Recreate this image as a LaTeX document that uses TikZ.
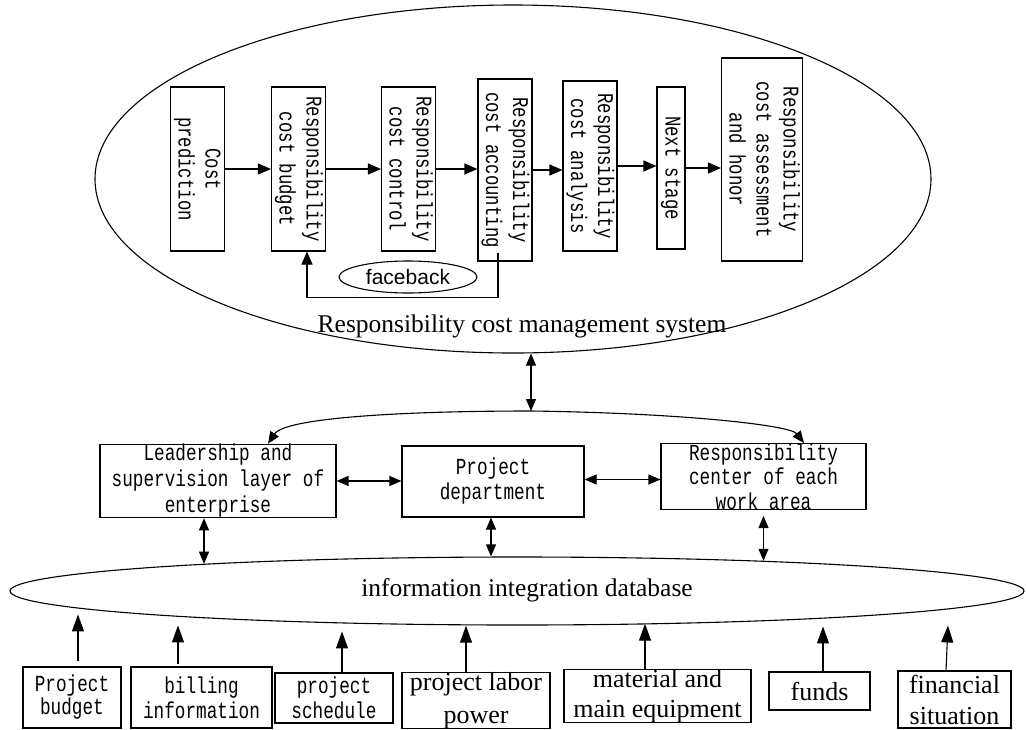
\documentclass[tikz,border=0pt]{standalone}
\usepackage{fontspec}
\setmainfont{Liberation Serif}
\newfontfamily\monofont[FakeStretch=0.77]{Liberation Mono}
\newfontfamily\sansfont{Liberation Sans}
\usetikzlibrary{shapes.geometric,arrows.meta,positioning}
\newcommand{\vtext}[1]{\rotatebox{-90}{\begin{tabular}{@{}c@{}}#1\end{tabular}}}
\begin{document}
\begin{tikzpicture}[x=1pt,y=-1pt,line width=1.1pt,
  box/.style={draw,inner sep=0pt,align=center},
  vbox/.style={box,font=\monofont\fontsize{22.5}{27}\selectfont},
  mbox/.style={box,font=\monofont\fontsize{23}{#1}\selectfont},
  sbox/.style={box,font=\fontsize{26}{#1}\selectfont},
  arr/.style={-{Triangle[length=13pt,width=11pt]}},
  barr/.style={-{Triangle[length=17pt,width=12pt]}},
  darr/.style={{Triangle[length=12pt,width=10pt]}-{Triangle[length=12pt,width=10pt]}}]
\useasboundingbox (0,0) rectangle (1026,729);
\node[draw,ellipse,minimum width=836pt,minimum height=348pt,inner sep=0pt] (E1) at (513,179) {};
\node[font=\fontsize{25.5}{30}\selectfont] (L1) at (522,326) {Responsibility cost management system};
\node[vbox,minimum width=51pt,minimum height=164pt] (P1) at (197.5,169) {\vtext{Cost\\prediction}};
\node[vbox,minimum width=51pt,minimum height=164pt] (P2) at (298.5,169) {\vtext{Responsibility\\cost budget}};
\node[vbox,minimum width=51pt,minimum height=164pt] (P3) at (408.5,169) {\vtext{Responsibility\\cost control}};
\node[vbox,minimum width=48pt,minimum height=182pt] (P4) at (505,170) {\vtext{Responsibility\\cost accounting}};
\node[vbox,minimum width=46pt,minimum height=170pt] (P5) at (590,166) {\vtext{Responsibility\\cost analysis}};
\node[vbox,minimum width=28pt,minimum height=162pt] (P6) at (671,168) {\vtext{Next stage}};
\node[vbox,minimum width=66pt,minimum height=203pt] (P7) at (762,159.5) {\vtext{Responsibility\\cost assessment\\and honor}};
\draw[arr] (P1.east) -- (P1.east -| P2.west);
\draw[arr] (P2.east) -- (P2.east -| P3.west);
\draw[arr] (P3.east) -- (P3.east -| P4.west);
\draw[arr] (P4.east) -- (P4.east -| P5.west);
\draw[arr] (P5.east) -- (P5.east -| P6.west);
\draw[arr] (P6.east) -- (P6.east -| P7.west);
\node[draw,ellipse,minimum width=138pt,minimum height=32pt,inner sep=0pt,font=\sansfont\fontsize{21}{24}\selectfont] (FB) at (408,277) {faceback};
\coordinate (F) at ([xshift=-7pt,yshift=9pt]P4.south);
\draw[arr] (F) -- ++(0,45) -| ([xshift=8.5pt]P2.south);
\node[mbox=26,minimum width=236pt,minimum height=72pt] (M1) at (218,481) {Leadership and\\supervision layer of\\enterprise};
\node[mbox=25,minimum width=182pt,minimum height=71pt] (M2) at (493,481.5) {Project\\department};
\node[mbox=24.5,minimum width=205pt,minimum height=65pt] (M3) at (763.5,476.5) {Responsibility\\center of each\\work area};
\coordinate (T) at (531,411);
\draw[darr] (E1.south -| T) -- (T);
\draw[darr] ([xshift=50pt]M1.north) .. controls (285,418) and (400,411) .. (T) .. controls (680,413) and (790,425) .. ([xshift=40.5pt]M3.north);
\draw[darr] (M1.east) -- (M1.east -| M2.west);
\draw[darr] ([yshift=2pt]M2.east) -- ([yshift=2pt]M2.east -| M3.west);
\node[draw,ellipse,minimum width=1014pt,minimum height=68pt,inner sep=0pt] (E2) at (517,591) {};
\node[font=\fontsize{25.5}{30}\selectfont] (L2) at (527,590) {information integration database};
\draw[darr] ([xshift=-14pt]M1.south) -- ([xshift=-14pt]M1.south |- E2.175);
\draw[darr] ([xshift=-2pt]M2.south) -- ([xshift=-2pt]M2.south |- E2.north);
\draw[darr] ([yshift=-6pt]M3.south) -- (M3.south |- E2.7);
\node[mbox=23,minimum width=98pt,minimum height=61pt] (B1) at (72,697.5) {Project\\budget};
\node[mbox=25,minimum width=141pt,minimum height=61pt] (B2) at (201.5,697.5) {billing\\information};
\node[mbox=25,minimum width=118pt,minimum height=50pt] (B3) at (334,698) {project\\schedule};
\node[sbox=33,minimum width=148pt,minimum height=55pt] (B4) at (476,700.5) {project labor\\power};
\node[sbox=30,minimum width=187pt,minimum height=48pt] (B5) at (657.5,696) {material and\\main equipment};
\node[sbox=30,minimum width=101pt,minimum height=38pt] (B6) at (819.5,691) {funds};
\node[sbox=31,minimum width=113pt,minimum height=57pt] (B7) at (954.5,699.5) {financial\\situation};
\draw[barr] ([xshift=6pt,yshift=5pt]B1.north) -- ++(0,-47);
\draw[barr] ([xshift=-23.5pt,yshift=2pt]B2.north) -- ++(0,-39);
\draw[barr] ([xshift=8pt]B3.north) -- ++(0,-41);
\draw[barr] ([xshift=-10pt]B4.north) -- ++(0,-46);
\draw[barr] ([xshift=-12.5pt]B5.north) -- ++(0,-45);
\draw[barr] ([xshift=3.5pt]B6.north) -- ++(0,-45);
\draw[barr] ([xshift=-8.5pt]B7.north) -- ++(2,-45);
\end{tikzpicture}
\end{document}
